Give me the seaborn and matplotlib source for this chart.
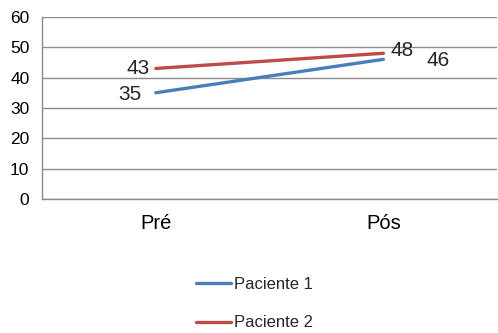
import matplotlib
matplotlib.use("Agg")
import matplotlib.pyplot as plt
import seaborn as sns
import pandas as pd

momentos = ["Pré", "Pós"]
paciente_1 = [35, 46]
paciente_2 = [43, 48]
series_names = ["Paciente 1", "Paciente 2"]
colors = ["#4a7ebb", "#be4b48"]
y_ticks = [0, 10, 20, 30, 40, 50, 60]

df = pd.DataFrame({
    "momento": momentos * 2,
    "valor": paciente_1 + paciente_2,
    "serie": [series_names[0]] * 2 + [series_names[1]] * 2,
})

sns.set_style("white")
plt.rcParams["font.family"] = ["Liberation Sans", "DejaVu Sans"]

fig = plt.figure(figsize=(4.98, 3.33), dpi=100)
ax = fig.add_axes([0.0843, 0.4024, 0.914, 0.547])

sns.lineplot(data=df, x="momento", y="valor", hue="serie", palette=colors,
             linewidth=2.4, ax=ax, sort=False, legend=True)

ax.set_xlim(-0.5, 1.5)
ax.set_ylim(0, 60)
ax.set_yticks(y_ticks)
ax.yaxis.grid(True, color="#8c8c8c", linewidth=1.0)
ax.set_axisbelow(True)
ax.set_xlabel("")
ax.set_ylabel("")
ax.tick_params(axis="y", labelsize=12.5, length=0, pad=9, colors="#000000")
ax.tick_params(axis="x", labelsize=14.5, length=0, pad=11, colors="#000000")
for s in ["top", "right"]:
    ax.spines[s].set_visible(False)
for s in ["left", "bottom"]:
    ax.spines[s].set_color("#8c8c8c")
    ax.spines[s].set_linewidth(1.0)

# data labels
offsets = {
    (0, 0): (-10, -1, "right"), (0, 1): (31, -1, "left"),
    (1, 0): (-4, 0, "right"), (1, 1): (5, 2, "left"),
}
for si, vals in enumerate([paciente_1, paciente_2]):
    for xi, v in enumerate(vals):
        dx, dy, ha = offsets[(si, xi)]
        ax.annotate(str(v), (xi, v), xytext=(dx, dy), textcoords="offset points",
                    ha=ha, va="center", fontsize=15)

handles, labels = ax.get_legend_handles_labels()
ax.get_legend().remove()
fig.legend(handles, labels, loc="center", bbox_to_anchor=(0.511, 0.088),
           frameon=False, fontsize=12, handlelength=2.1, handletextpad=0.15,
           labelspacing=1.4)

fig.savefig("out.png", dpi=100)
